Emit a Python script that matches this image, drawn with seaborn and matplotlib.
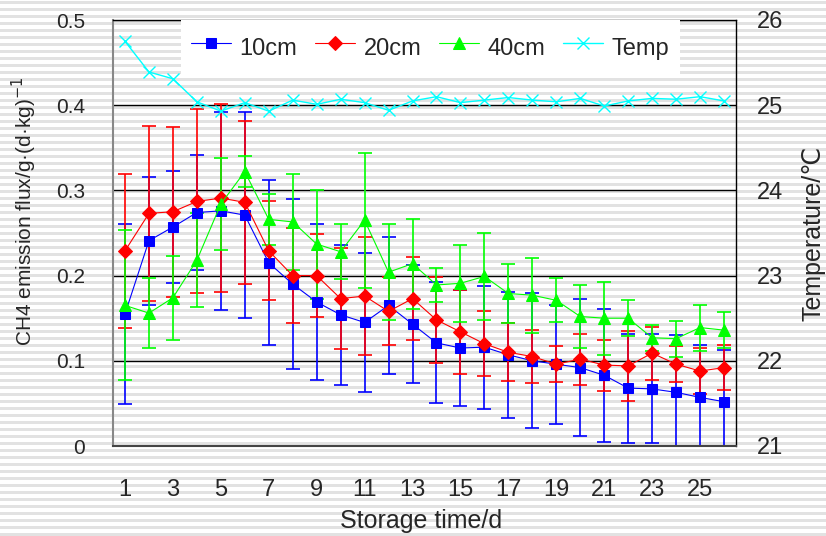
import numpy as np
import matplotlib
matplotlib.use("Agg")
import matplotlib.pyplot as plt
import seaborn as sns

days = list(range(1, 27))
flux_10 = [0.155, 0.241, 0.257, 0.274, 0.276, 0.271, 0.215, 0.190, 0.169, 0.154, 0.145, 0.165, 0.143,
           0.121, 0.115, 0.116, 0.107, 0.100, 0.096, 0.092, 0.083, 0.068, 0.067, 0.063, 0.057, 0.052]
err_10 = [0.106, 0.075, 0.066, 0.068, 0.116, 0.121, 0.097, 0.100, 0.092, 0.082, 0.082, 0.080, 0.069,
          0.071, 0.068, 0.072, 0.074, 0.079, 0.070, 0.080, 0.078, 0.064, 0.064, 0.067, 0.061, 0.061]
flux_20 = [0.229, 0.273, 0.275, 0.287, 0.291, 0.286, 0.229, 0.200, 0.200, 0.173, 0.176, 0.158, 0.173,
           0.148, 0.134, 0.120, 0.110, 0.105, 0.096, 0.102, 0.095, 0.094, 0.109, 0.096, 0.088, 0.092]
err_20 = [0.090, 0.103, 0.100, 0.108, 0.110, 0.096, 0.058, 0.056, 0.049, 0.059, 0.069, 0.040, 0.049,
          0.050, 0.049, 0.038, 0.034, 0.031, 0.021, 0.030, 0.030, 0.041, 0.031, 0.021, 0.027, 0.026]
flux_40 = [0.165, 0.156, 0.174, 0.218, 0.284, 0.322, 0.266, 0.263, 0.237, 0.228, 0.265, 0.204, 0.214,
           0.189, 0.191, 0.199, 0.179, 0.177, 0.171, 0.152, 0.150, 0.150, 0.127, 0.126, 0.139, 0.136]
err_40 = [0.088, 0.041, 0.049, 0.055, 0.054, 0.018, 0.030, 0.056, 0.064, 0.032, 0.079, 0.056, 0.053,
          0.020, 0.045, 0.051, 0.035, 0.044, 0.026, 0.037, 0.043, 0.021, 0.015, 0.021, 0.027, 0.021]
temp = [25.75, 25.39, 25.31, 25.04, 24.93, 25.03, 24.93, 25.06, 25.01, 25.07, 25.03, 24.94, 25.05,
        25.10, 25.03, 25.06, 25.09, 25.06, 25.04, 25.08, 24.99, 25.05, 25.08, 25.07, 25.10, 25.05]
xtick_labels = [str(d) for d in range(1, 26, 2)]

sns.set_style("white")
plt.rcParams['font.family'] = ['Liberation Sans', 'DejaVu Sans']

fig = plt.figure(figsize=(8.26, 5.36), dpi=100, facecolor='white')

# striped background over the whole picture
bg = fig.add_axes([0, 0, 1, 1], zorder=-10)
bg.set_xlim(0, 1)
bg.set_ylim(536, 0)
bg.axis('off')
for y0 in np.arange(1, 536, 7.0):
    bg.axhspan(y0, y0 + 3, color='#e2e2e2', lw=0)

ax = fig.add_axes([113/826, 90/536, 623/826, 426/536])
ax.patch.set_alpha(0)

series = [(flux_10, err_10, '#0000ff', 's', 7.5, '10cm'),
          (flux_20, err_20, '#ff0000', 'D', 7.5, '20cm'),
          (flux_40, err_40, '#00ff00', '^', 8.5, '40cm')]

for vals, errs, col, mk, ms, lab in series:
    ax.errorbar(days, vals, yerr=errs, fmt='none', ecolor=col, elinewidth=1.2,
                capsize=5, capthick=1.2, zorder=2)
for vals, errs, col, mk, ms, lab in series:
    sns.lineplot(x=days, y=vals, ax=ax, color=col, marker=mk, markersize=ms,
                 markeredgecolor=col, linewidth=0.8, label=lab, zorder=3)

ax.set_xlim(0.5, 26.5)
ax.set_ylim(0, 0.5)
ax.set_yticks([0, 0.1, 0.2, 0.3, 0.4, 0.5])
ax.set_yticklabels(['0', '0.1', '0.2', '0.3', '0.4', '0.5'], fontsize=15)
ax.set_xticks(list(range(1, 26, 2)))
ax.set_xticklabels(xtick_labels, fontsize=17)
ax.set_xticks(np.arange(1.5, 26, 1), minor=True)
ax.tick_params(axis='y', length=0, pad=20)
ax.tick_params(axis='x', which='major', length=0, pad=24)
ax.tick_params(axis='x', which='minor', length=8, width=1, direction='in', color='#555555')
ax.yaxis.grid(True, color='black', lw=1)
ax.xaxis.grid(False)
ax.set_axisbelow(True)
for s, c, w in [('left', '#888888', 1.5), ('bottom', '#444444', 1.5),
                ('top', 'black', 1), ('right', 'black', 1)]:
    ax.spines[s].set_color(c)
    ax.spines[s].set_linewidth(w)
    ax.spines[s].set_visible(True)
ax.set_xlabel('Storage time/d', fontsize=18)
ax.xaxis.set_label_coords(0.495, -0.148)
ax.set_ylabel('CH4 emission flux/g·(d·kg)$^{-1}$', fontsize=15)
ax.yaxis.set_label_coords(-0.118, 0.55)

ax2 = ax.twinx()
ax2.patch.set_alpha(0)
sns.lineplot(x=days, y=temp, ax=ax2, color='#00ffff', marker='x', markersize=8,
             markeredgecolor='#00ffff', markeredgewidth=1, linewidth=1, label='Temp')
ax2.set_ylim(21, 26)
ax2.set_yticks([21, 22, 23, 24, 25, 26])
ax2.set_yticklabels(['21', '22', '23', '24', '25', '26'], fontsize=17)
ax2.tick_params(axis='y', length=0, pad=15)
ax2.grid(False)
for s in ax2.spines.values():
    s.set_visible(False)
ax2.set_ylabel('Temperature/℃', fontsize=18)
ax2.yaxis.set_label_coords(1.105, 0.5)

h1, l1 = ax.get_legend_handles_labels()
h2, l2 = ax2.get_legend_handles_labels()
ax.get_legend().remove()
leg = ax2.legend(h1 + h2, l1 + l2, loc='upper center', bbox_to_anchor=(0.509, 1.0), ncol=4,
                 fontsize=17, frameon=True, fancybox=False, facecolor='white', edgecolor='none',
                 framealpha=1, handlelength=1.7, handleheight=1.8, columnspacing=0.75,
                 borderaxespad=0, borderpad=0.45, handletextpad=0.35)

fig.savefig('out.png', dpi=100, facecolor='white')
